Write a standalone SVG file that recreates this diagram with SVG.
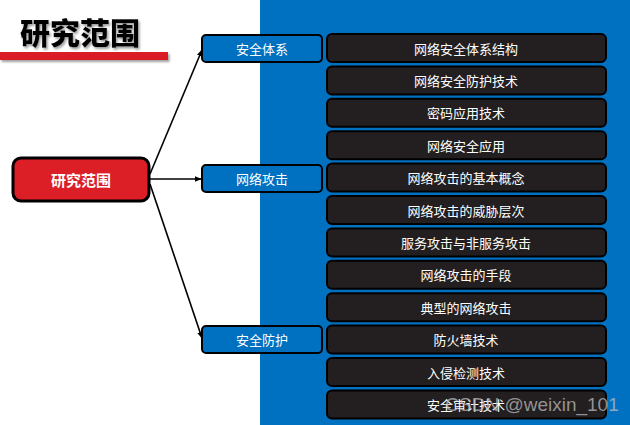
<svg xmlns="http://www.w3.org/2000/svg" width="630" height="425" viewBox="0 0 630 425">
<defs>
<marker id="arr" viewBox="0 0 10 10" refX="9" refY="5" markerWidth="7" markerHeight="7" orient="auto" markerUnits="userSpaceOnUse"><path d="M0,1 L10,5 L0,9 z" fill="#000"/></marker>
<filter id="ds" x="-10%" y="-50%" width="130%" height="200%"><feDropShadow dx="1.5" dy="2" stdDeviation="1" flood-color="#777" flood-opacity="0.7"/></filter>
</defs>
<style>
text{font-family:"Noto Sans CJK SC","Microsoft YaHei",sans-serif;text-anchor:middle;dominant-baseline:central}
.cat rect{fill:#0070C0;stroke:#000;stroke-width:2}
.cat text{fill:#fff;font-size:13px}
.item rect{fill:#231F20;stroke:#000;stroke-width:2}
.item text{fill:#fff;font-size:13px}
.conn line{stroke:#000;stroke-width:1.6;marker-end:url(#arr)}
</style>
<rect x="0" y="0" width="630" height="425" fill="#fff"/>
<rect x="260" y="0" width="370" height="425" fill="#0070C0"/>
<g id="title">
<rect x="0" y="52" width="168" height="8" fill="#DA1F26" filter="url(#ds)"/>
<text x="80" y="31" style="font-size:30px;font-weight:900;fill:#000" filter="url(#ds)">研究范围</text>
</g>
<g id="conns" class="conn">
<line x1="150" y1="174" x2="202" y2="50"/>
<line x1="150" y1="179" x2="201" y2="179"/>
<line x1="150" y1="184" x2="202" y2="338"/>
</g>
<g id="root">
<rect x="13" y="158" width="136" height="43" rx="8" fill="#DC1F27" stroke="#000" stroke-width="3"/>
<text x="81" y="179.5" style="fill:#fff;font-size:15px;font-weight:bold">研究范围</text>
</g>
<g id="cat1" class="cat"><rect x="202" y="35" width="120" height="27" rx="4"/><text x="262" y="48.5">安全体系</text></g>
<g id="cat2" class="cat"><rect x="202" y="165" width="120" height="27" rx="4"/><text x="262" y="178.5">网络攻击</text></g>
<g id="cat3" class="cat"><rect x="202" y="326" width="120" height="27" rx="4"/><text x="262" y="339.5">安全防护</text></g>
<g id="i1" class="item"><rect x="327" y="34" width="279" height="28" rx="5"/><text x="466" y="48">网络安全体系结构</text></g>
<g id="i2" class="item"><rect x="327" y="66.4" width="279" height="28" rx="5"/><text x="466" y="80.4">网络安全防护技术</text></g>
<g id="i3" class="item"><rect x="327" y="98.8" width="279" height="28" rx="5"/><text x="466" y="112.8">密码应用技术</text></g>
<g id="i4" class="item"><rect x="327" y="131.2" width="279" height="28" rx="5"/><text x="466" y="145.2">网络安全应用</text></g>
<g id="i5" class="item"><rect x="327" y="163.6" width="279" height="28" rx="5"/><text x="466" y="177.6">网络攻击的基本概念</text></g>
<g id="i6" class="item"><rect x="327" y="196" width="279" height="28" rx="5"/><text x="466" y="210">网络攻击的威胁层次</text></g>
<g id="i7" class="item"><rect x="327" y="228.4" width="279" height="28" rx="5"/><text x="466" y="242.4">服务攻击与非服务攻击</text></g>
<g id="i8" class="item"><rect x="327" y="260.8" width="279" height="28" rx="5"/><text x="466" y="274.8">网络攻击的手段</text></g>
<g id="i9" class="item"><rect x="327" y="293.2" width="279" height="28" rx="5"/><text x="466" y="307.2">典型的网络攻击</text></g>
<g id="i10" class="item"><rect x="327" y="325.6" width="279" height="28" rx="5"/><text x="466" y="339.6">防火墙技术</text></g>
<g id="i11" class="item"><rect x="327" y="358" width="279" height="28" rx="5"/><text x="466" y="372">入侵检测技术</text></g>
<g id="i12" class="item"><rect x="327" y="390.4" width="279" height="28" rx="5"/><text x="466" y="404.4">安全审计技术</text></g>
<text x="532" y="404" style="font-family:'Liberation Sans',Arial,sans-serif;font-size:19px;fill:#bbb;fill-opacity:0.75">CSDN @weixin_101</text>
</svg>
